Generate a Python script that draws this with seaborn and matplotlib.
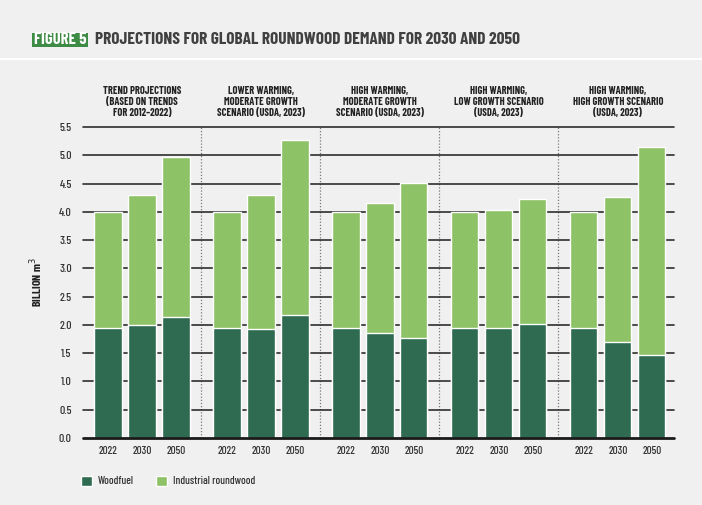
import numpy as np
import pandas as pd
import seaborn as sns
import matplotlib.pyplot as plt
from matplotlib.patches import Patch, Rectangle
from matplotlib.lines import Line2D

# Data (billion m3)
scenarios = ['TREND PROJECTIONS\n(BASED ON TRENDS\nFOR 2012\u20132022)',
             'LOWER WARMING,\nMODERATE GROWTH\nSCENARIO (USDA, 2023)',
             'HIGH WARMING,\nMODERATE GROWTH\nSCENARIO (USDA, 2023)',
             'HIGH WARMING,\nLOW GROWTH SCENARIO\n(USDA, 2023)',
             'HIGH WARMING,\nHIGH GROWTH SCENARIO\n(USDA, 2023)']
years = ['2022', '2030', '2050']
woodfuel = [[1.95, 2.00, 2.14],
            [1.95, 1.92, 2.18],
            [1.95, 1.86, 1.77],
            [1.95, 1.95, 2.02],
            [1.95, 1.70, 1.47]]
total = [[4.00, 4.30, 4.98],
         [4.00, 4.30, 5.27],
         [4.00, 4.16, 4.51],
         [4.00, 4.04, 4.23],
         [4.00, 4.27, 5.15]]

dark_green = '#2e6b51'
light_green = '#8dc266'
bg = '#f0f0f0'

sns.set_theme(style='white')
plt.rcParams['font.family'] = ['Barlow Condensed', 'DejaVu Sans']

rows = []
for g in range(len(scenarios)):
    for j, yr in enumerate(years):
        rows.append({'pos': g * 3.5 + j, 'group': g, 'year': yr,
                     'woodfuel': woodfuel[g][j], 'total': total[g][j]})
df = pd.DataFrame(rows)

fig = plt.figure(figsize=(7.02, 5.05), dpi=100, facecolor=bg)
ax = fig.add_axes([0.118, 0.133, 0.842, 0.615])
ax.set_facecolor(bg)

sns.barplot(data=df, x='pos', y='total', native_scale=True, color=light_green,
            saturation=1, width=0.8, ax=ax, zorder=3)
sns.barplot(data=df, x='pos', y='woodfuel', native_scale=True, color=dark_green,
            saturation=1, width=0.8, ax=ax, zorder=4)

ax.set_ylim(0, 5.5)
ax.set_xlim(-0.74, 16.65)
yt = np.arange(0, 5.51, 0.5)
for v in yt:
    ax.axhline(v, color='#1a1a1a' if v == 0 else '#2e2e2e', lw=2 if v == 0 else 1.2,
               zorder=2 if v > 0 else 5, clip_on=False)
for g in range(len(scenarios) - 1):
    ax.axvline(g * 3.5 + 2.75, color='#777777', lw=0.9, ls=(0, (1, 1.5)), zorder=1)

ax.set_yticks(yt)
ax.set_yticklabels([f'{v:.1f}' for v in yt], fontsize=8.5, fontweight=500, color='#333333')
ax.set_xticks(df['pos'])
ax.set_xticklabels(df['year'], fontsize=8, fontweight=500, color='#333333')
ax.tick_params(axis='y', length=0, pad=8)
ax.tick_params(axis='x', length=0, pad=6)
ax.set_xlabel('')
ax.set_ylabel('BILLION m$^3$', fontsize=8.5, fontweight=700, color='#222222', labelpad=10)
sns.despine(ax=ax, left=True, bottom=True, top=True, right=True)

for g, name in enumerate(scenarios):
    ax.text(g * 3.5 + 1, 1.03, name, transform=ax.get_xaxis_transform(), ha='center',
            va='bottom', fontsize=7.5, fontweight=700, color='#222222', linespacing=1.12)

# Title
fig.add_artist(Rectangle((32 / 702, 1 - 47 / 505), 56 / 702, 14 / 505, transform=fig.transFigure,
                         facecolor='#3d8b45', edgecolor='none'))
fig.text(60 / 702, 1 - 40 / 505, 'FIGURE 5', ha='center', va='center', color='white',
         fontsize=12, fontweight=700)
fig.text(95 / 702, 1 - 40 / 505, 'PROJECTIONS FOR GLOBAL ROUNDWOOD DEMAND FOR 2030 AND 2050',
         ha='left', va='center', color='#404040', fontsize=12.5, fontweight=700)
fig.add_artist(Line2D([0, 1], [1 - 59 / 505, 1 - 59 / 505], transform=fig.transFigure,
                      color='white', lw=1.5))

handles = [Patch(facecolor=dark_green, label='Woodfuel'),
           Patch(facecolor=light_green, label='Industrial roundwood')]
fig.legend(handles=handles, loc='center left', bbox_to_anchor=(71 / 702, 1 - 481 / 505), ncol=2,
           frameon=False, handlelength=1.0, handleheight=1.0, handletextpad=0.5,
           columnspacing=2.0, prop={'size': 8, 'weight': 500}, labelcolor='#333333')

fig.savefig('out.png', dpi=100, facecolor=bg)
